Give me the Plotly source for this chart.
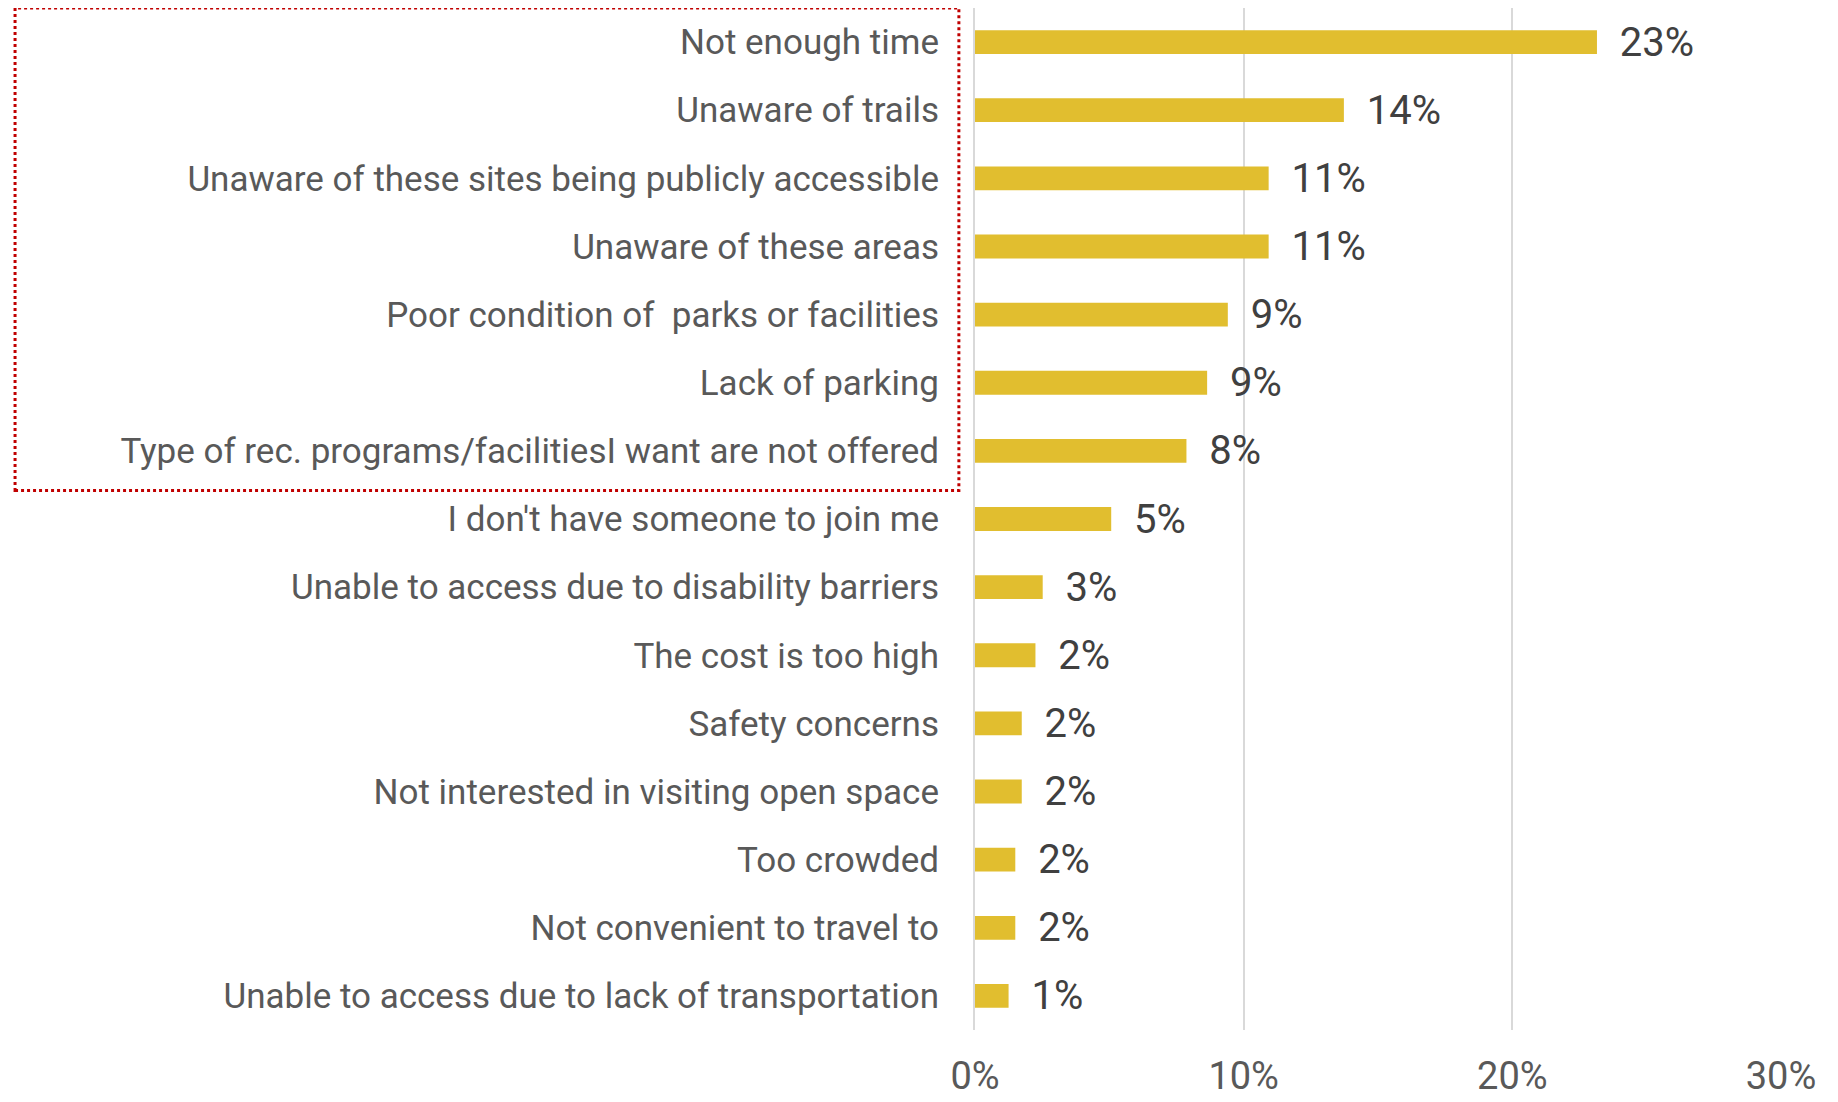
import plotly.graph_objects as go

# ── Data ─────────────────────────────────────────────────────────────────────
reasons = [
    "Not enough time",
    "Unaware of trails",
    "Unaware of these sites being publicly accessible",
    "Unaware of these areas",
    "Poor condition of  parks or facilities",
    "Lack of parking",
    "Type of rec. programs/facilitiesI want are not offered",
    "I don't have someone to join me",
    "Unable to access due to disability barriers",
    "The cost is too high",
    "Safety concerns",
    "Not interested in visiting open space",
    "Too crowded",
    "Not convenient to travel to",
    "Unable to access due to lack of transportation",
]
shares = [0.2315, 0.1373, 0.1093, 0.1093, 0.0941, 0.0864, 0.0787,
          0.0507, 0.0252, 0.0225, 0.0174, 0.0174, 0.0150, 0.0150, 0.0125]
tick_vals = [0, 0.1, 0.2, 0.3]

FONT = "Liberation Sans Narrow, Arial Narrow, Roboto, sans-serif"
BAR = "#E1BE2F"
GRID = "#D9D9D9"

fig = go.Figure(go.Bar(
    x=shares, y=reasons, orientation="h",
    marker=dict(color=BAR, line_width=0),
    width=0.35,
    text=["  " + f"{v:.0%}" for v in shares],
    textposition="outside", constraintext="none", cliponaxis=False,
    textfont=dict(family=FONT, size=40, color="#404040"),
))

# dotted highlight box round the top seven reasons
fig.add_shape(type="rect", xref="paper", yref="paper",
              x0=-1.191, x1=-0.02, y0=0.528, y1=1.0,
              line=dict(color="#C00000", width=3, dash="dot"))

# page body has an 8px margin, so the figure is a touch smaller than the window
fig.update_layout(
    width=1830, height=1094,
    paper_bgcolor="white", plot_bgcolor="white",
    margin=dict(l=967, r=57, t=0, b=72),
    showlegend=False,
    font=dict(family=FONT, color="#595959"),
    xaxis=dict(range=[0, 0.3], tickvals=tick_vals, tickformat=".0%",
               showgrid=True, gridcolor=GRID, gridwidth=2,
               zeroline=False, showline=False, ticks="",
               automargin=False, ticklabelstandoff=20,
               tickfont=dict(family=FONT, size=38, color="#595959")),
    yaxis=dict(autorange="reversed", showgrid=False, ticks="",
               showline=True, linecolor=GRID, linewidth=2,
               automargin=False, ticklabelstandoff=27,
               tickfont=dict(family=FONT, size=35, color="#595959")),
)

fig.write_html("out.html")
